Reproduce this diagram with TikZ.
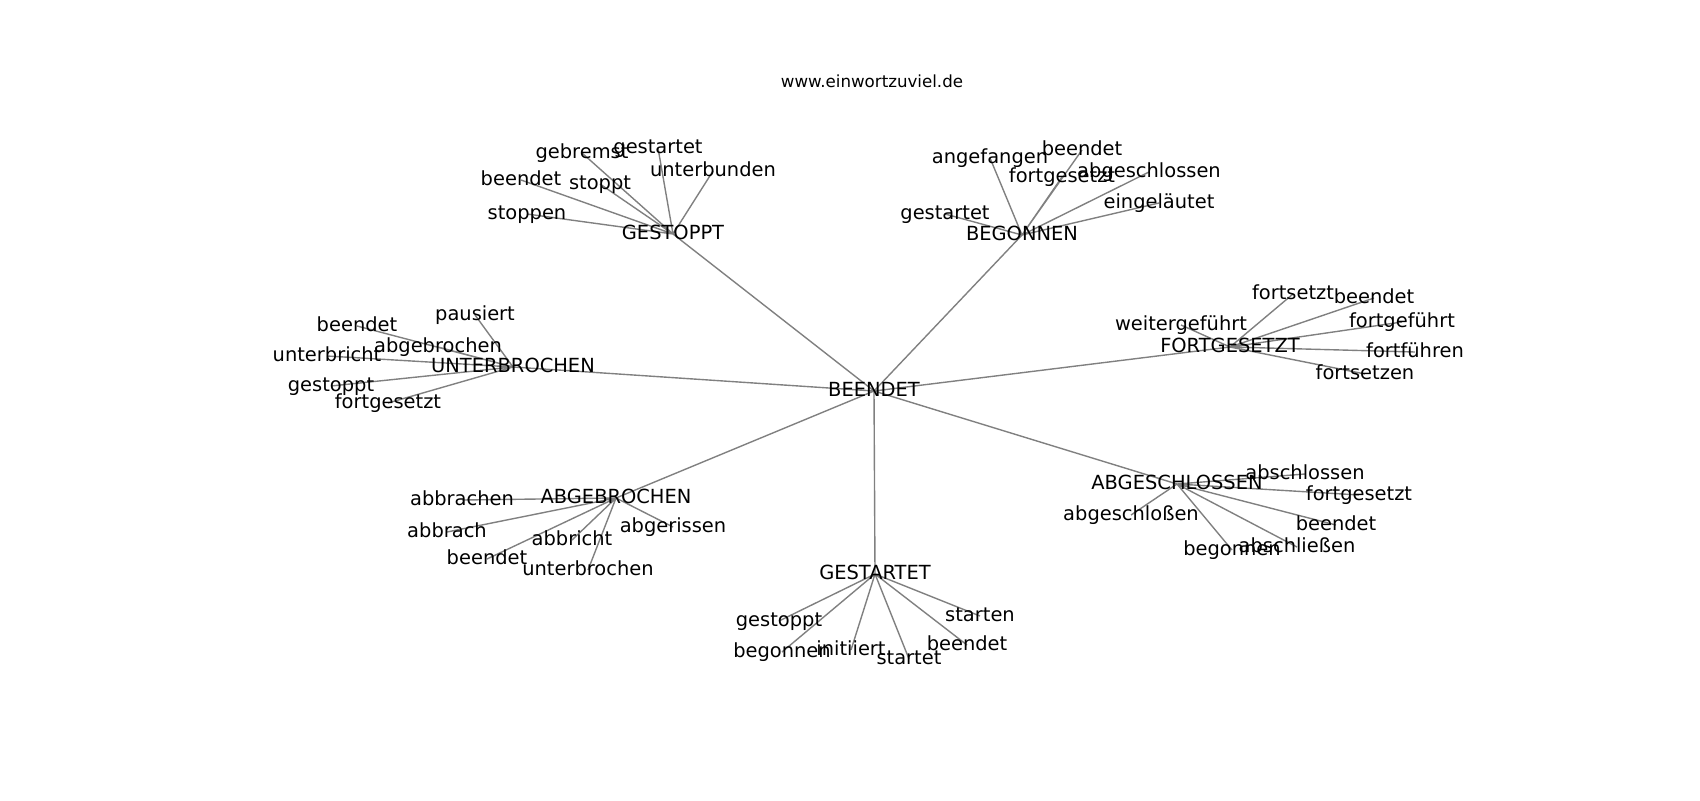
\documentclass[tikz,border=0pt]{standalone}
\usepackage{fontspec}
\setmainfont{DejaVu Sans}
\usetikzlibrary{backgrounds}

\begin{document}
\begin{tikzpicture}
	[
	x=0.72pt, y=-0.72pt, >=latex,
	%Voreinstellung für Beschriftungen und Kanten
	wort/.style={font=\fontsize{14}{17}\selectfont, inner sep=0pt, text height=10.6pt, text depth=3.4pt},
	titel/.style={font=\fontsize{12}{14}\selectfont, inner sep=0pt, text height=9.1pt, text depth=2.9pt},
	kante/.style={gray, line width=1pt}
	]
	\useasboundingbox (0,0) rectangle (1700,800);
	\node[titel] (titel) at (872,83) {www.einwortzuviel.de};
	%Zentrum
	\node[wort] (beendet) at (874,391) {BEENDET};
	%Hauptknoten
	\node[wort] (gestoppt) at (673,234) {GESTOPPT};
	\node[wort] (begonnen) at (1022,235) {BEGONNEN};
	\node[wort] (unterbrochen) at (513,367) {UNTERBROCHEN};
	\node[wort] (fortgesetzt) at (1230,347) {FORTGESETZT};
	\node[wort] (abgebrochen) at (616,498) {ABGEBROCHEN};
	\node[wort] (abgeschlossen) at (1177,484) {ABGESCHLOSSEN};
	\node[wort] (gestartet) at (875,574) {GESTARTET};
	%GESTOPPT
	\node[wort] (gestoppt-1) at (582,153) {gebremst};
	\node[wort] (gestoppt-2) at (658,148) {gestartet};
	\node[wort] (gestoppt-3) at (713,171) {unterbunden};
	\node[wort] (gestoppt-4) at (521,180) {beendet};
	\node[wort] (gestoppt-5) at (600,184) {stoppt};
	\node[wort] (gestoppt-6) at (527,214) {stoppen};
	%BEGONNEN
	\node[wort] (begonnen-1) at (990,158) {angefangen};
	\node[wort] (begonnen-2) at (1082,150) {beendet};
	\node[wort] (begonnen-3) at (1062,177) {fortgesetzt};
	\node[wort] (begonnen-4) at (1149,172) {abgeschlossen};
	\node[wort] (begonnen-5) at (1159,203) {eingeläutet};
	\node[wort] (begonnen-6) at (945,214) {gestartet};
	%UNTERBROCHEN
	\node[wort] (unterbrochen-1) at (475,315) {pausiert};
	\node[wort] (unterbrochen-2) at (357,326) {beendet};
	\node[wort] (unterbrochen-3) at (438,347) {abgebrochen};
	\node[wort] (unterbrochen-4) at (327,356) {unterbricht};
	\node[wort] (unterbrochen-5) at (331,386) {gestoppt};
	\node[wort] (unterbrochen-6) at (388,403) {fortgesetzt};
	%FORTGESETZT
	\node[wort] (fortgesetzt-1) at (1293,294) {fortsetzt};
	\node[wort] (fortgesetzt-2) at (1374,298) {beendet};
	\node[wort] (fortgesetzt-3) at (1181,325) {weitergeführt};
	\node[wort] (fortgesetzt-4) at (1402,322) {fortgeführt};
	\node[wort] (fortgesetzt-5) at (1415,352) {fortführen};
	\node[wort] (fortgesetzt-6) at (1365,374) {fortsetzen};
	%ABGEBROCHEN
	\node[wort] (abgebrochen-1) at (462,500) {abbrachen};
	\node[wort] (abgebrochen-2) at (447,532) {abbrach};
	\node[wort] (abgebrochen-3) at (572,540) {abbricht};
	\node[wort] (abgebrochen-4) at (673,527) {abgerissen};
	\node[wort] (abgebrochen-5) at (487,559) {beendet};
	\node[wort] (abgebrochen-6) at (588,570) {unterbrochen};
	%ABGESCHLOSSEN
	\node[wort] (abgeschlossen-1) at (1305,474) {abschlossen};
	\node[wort] (abgeschlossen-2) at (1359,495) {fortgesetzt};
	\node[wort] (abgeschlossen-3) at (1131,515) {abgeschloßen};
	\node[wort] (abgeschlossen-4) at (1336,525) {beendet};
	\node[wort] (abgeschlossen-5) at (1232,550) {begonnen};
	\node[wort] (abgeschlossen-6) at (1297,547) {abschließen};
	%GESTARTET
	\node[wort] (gestartet-1) at (980,616) {starten};
	\node[wort] (gestartet-2) at (779,621) {gestoppt};
	\node[wort] (gestartet-3) at (967,645) {beendet};
	\node[wort] (gestartet-4) at (782,652) {begonnen};
	\node[wort] (gestartet-5) at (851,650) {initiiert};
	\node[wort] (gestartet-6) at (909,659) {startet};
	%Kanten unter den Wörtern
	\begin{scope}[on background layer]
		\fill[white] (0,0) rectangle (1700,800);
		\draw[kante] (beendet.center) -- (gestoppt.center) (beendet.center) -- (begonnen.center)
			(beendet.center) -- (unterbrochen.center) (beendet.center) -- (fortgesetzt.center)
			(beendet.center) -- (abgebrochen.center) (beendet.center) -- (abgeschlossen.center)
			(beendet.center) -- (gestartet.center);
		\draw[kante] (gestoppt.center) -- (gestoppt-1.center) (gestoppt.center) -- (gestoppt-2.center)
			(gestoppt.center) -- (gestoppt-3.center) (gestoppt.center) -- (gestoppt-4.center)
			(gestoppt.center) -- (gestoppt-5.center) (gestoppt.center) -- (gestoppt-6.center);
		\draw[kante] (begonnen.center) -- (begonnen-1.center) (begonnen.center) -- (begonnen-2.center)
			(begonnen.center) -- (begonnen-3.center) (begonnen.center) -- (begonnen-4.center)
			(begonnen.center) -- (begonnen-5.center) (begonnen.center) -- (begonnen-6.center);
		\draw[kante] (unterbrochen.center) -- (unterbrochen-1.center) (unterbrochen.center) -- (unterbrochen-2.center)
			(unterbrochen.center) -- (unterbrochen-3.center) (unterbrochen.center) -- (unterbrochen-4.center)
			(unterbrochen.center) -- (unterbrochen-5.center) (unterbrochen.center) -- (unterbrochen-6.center);
		\draw[kante] (fortgesetzt.center) -- (fortgesetzt-1.center) (fortgesetzt.center) -- (fortgesetzt-2.center)
			(fortgesetzt.center) -- (fortgesetzt-3.center) (fortgesetzt.center) -- (fortgesetzt-4.center)
			(fortgesetzt.center) -- (fortgesetzt-5.center) (fortgesetzt.center) -- (fortgesetzt-6.center);
		\draw[kante] (abgebrochen.center) -- (abgebrochen-1.center) (abgebrochen.center) -- (abgebrochen-2.center)
			(abgebrochen.center) -- (abgebrochen-3.center) (abgebrochen.center) -- (abgebrochen-4.center)
			(abgebrochen.center) -- (abgebrochen-5.center) (abgebrochen.center) -- (abgebrochen-6.center);
		\draw[kante] (abgeschlossen.center) -- (abgeschlossen-1.center) (abgeschlossen.center) -- (abgeschlossen-2.center)
			(abgeschlossen.center) -- (abgeschlossen-3.center) (abgeschlossen.center) -- (abgeschlossen-4.center)
			(abgeschlossen.center) -- (abgeschlossen-5.center) (abgeschlossen.center) -- (abgeschlossen-6.center);
		\draw[kante] (gestartet.center) -- (gestartet-1.center) (gestartet.center) -- (gestartet-2.center)
			(gestartet.center) -- (gestartet-3.center) (gestartet.center) -- (gestartet-4.center)
			(gestartet.center) -- (gestartet-5.center) (gestartet.center) -- (gestartet-6.center);
	\end{scope}
\end{tikzpicture}
\end{document}
